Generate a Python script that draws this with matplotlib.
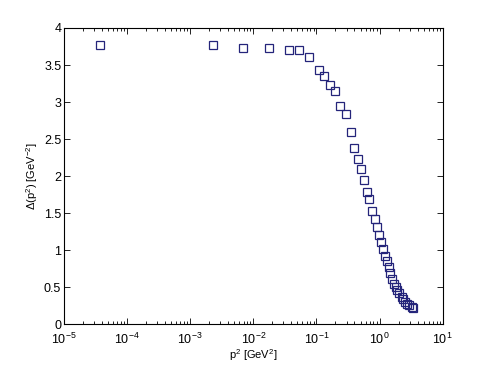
import matplotlib
matplotlib.use("Agg")
import matplotlib.pyplot as plt
from matplotlib.ticker import FixedLocator, NullFormatter

# p^2 [GeV^2] i Delta(p^2) [GeV^-2]
p2 = [3.72e-5, 2.32e-3, 6.86e-3, 0.0179, 0.0367, 0.0522, 0.0760, 0.108,
      0.1315, 0.1637, 0.1986, 0.238, 0.290, 0.348, 0.397, 0.450, 0.502,
      0.566, 0.625, 0.692, 0.759, 0.845, 0.899, 0.989, 1.064, 1.120, 1.205,
      1.297, 1.394, 1.479, 1.589, 1.710, 1.799, 1.909, 2.029, 2.239, 2.375,
      2.525, 2.686, 2.955, 3.26, 3.42]
delta = [3.775, 3.775, 3.730, 3.730, 3.703, 3.703, 3.609, 3.433, 3.352,
         3.235, 3.154, 2.951, 2.839, 2.592, 2.380, 2.236, 2.097, 1.944,
         1.782, 1.692, 1.530, 1.422, 1.314, 1.206, 1.107, 1.017, 0.926,
         0.855, 0.770, 0.689, 0.612, 0.544, 0.508, 0.463, 0.419, 0.373,
         0.346, 0.305, 0.274, 0.261, 0.238, 0.220]

xticks = [1e-5, 1e-4, 1e-3, 1e-2, 1e-1, 1e0, 1e1]
xtick_labels = ['$10^{-5}$', '$10^{-4}$', '$10^{-3}$', '$10^{-2}$',
                '$10^{-1}$', '$10^{0}$', '$10^{1}$']
yticks = [0, 0.5, 1, 1.5, 2, 2.5, 3, 3.5, 4]
ytick_labels = ['0', '0.5', '1', '1.5', '2', '2.5', '3', '3.5', '4']


def main():
    plt.rcParams['font.family'] = ['Liberation Sans', 'DejaVu Sans']
    plt.rcParams['mathtext.fontset'] = 'custom'
    plt.rcParams['mathtext.rm'] = 'Liberation Sans'
    plt.rcParams['mathtext.it'] = 'Liberation Sans'
    plt.rcParams['mathtext.default'] = 'regular'

    fig = plt.figure(figsize=(4.88, 3.65), dpi=100)
    ax = fig.add_axes([0.1311, 0.1115, 0.776, 0.8118])

    ax.plot(p2, delta, linestyle='none', marker='s', markersize=6,
            markerfacecolor='none', markeredgecolor='#24247a',
            markeredgewidth=0.9)

    ax.set_xscale('log')
    ax.set_xlim(1e-5, 10)
    ax.set_ylim(0, 4)
    ax.set_yticks(yticks)
    ax.set_yticklabels(ytick_labels)
    ax.set_xticks(xticks)
    ax.set_xticklabels(xtick_labels)
    minor = [m * 10.0 ** e for e in range(-5, 1) for m in range(2, 10)]
    ax.xaxis.set_minor_locator(FixedLocator(minor))
    ax.xaxis.set_minor_formatter(NullFormatter())

    ax.tick_params(which='both', direction='in', top=True, right=True,
                   labelsize=9, width=0.6)
    ax.tick_params(axis='y', pad=2)
    ax.tick_params(axis='x', pad=5.5)
    ax.tick_params(which='major', length=4)
    ax.tick_params(which='minor', length=2.5)
    for s in ax.spines.values():
        s.set_linewidth(0.8)

    ax.set_xlabel('p$^2$ [GeV$^2$]', fontsize=8, labelpad=0)
    ax.set_ylabel('Δ(p$^2$) [GeV$^{-2}$]', fontsize=8, labelpad=3)

    fig.savefig('out.png', dpi=100)


if __name__ == '__main__':
    main()
